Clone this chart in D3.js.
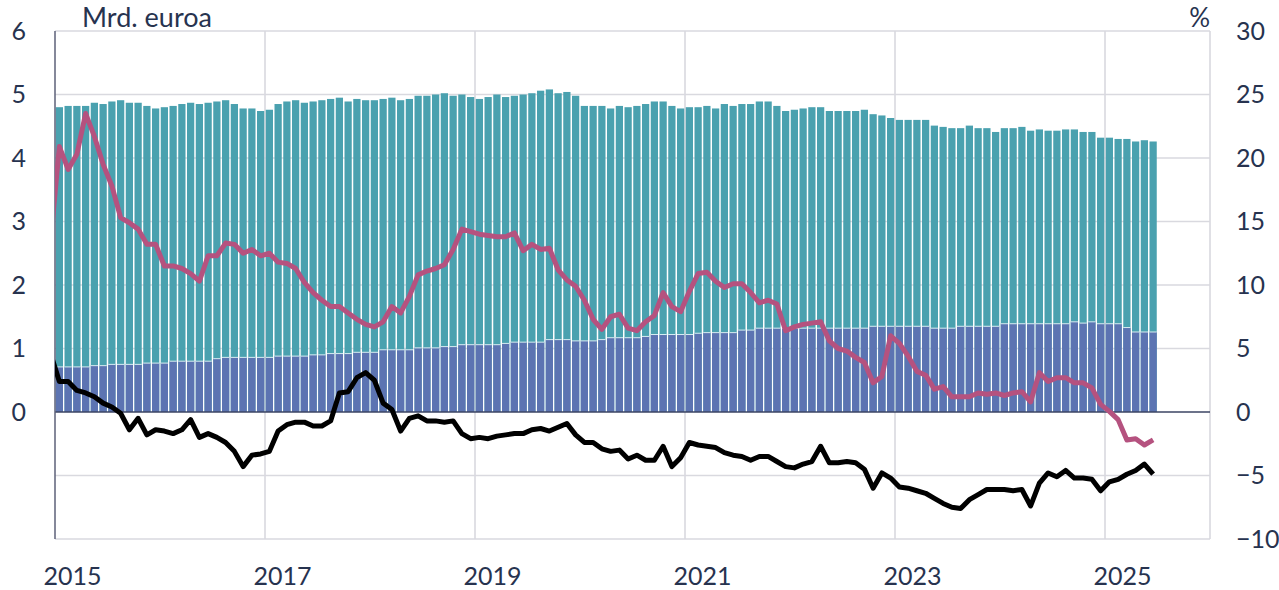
<!DOCTYPE html>
<html>
<head>
<meta charset="utf-8">
<script src="https://cdn.jsdelivr.net/npm/d3@7"></script>
<style>
  body { margin: 0; background: #fff; }
  svg text { font-family: Lato, "Open Sans", sans-serif; fill: #27334f; }
</style>
</head>
<body>
<div id="chart"></div>
<script>
// monthly data, Jan 2015 .. Jun 2025 (bars)
const barTotal = [
  4.80,4.82,4.82,4.82,4.87,4.85,4.89,4.91,4.87,4.87,4.82,4.78,
  4.80,4.82,4.85,4.87,4.85,4.87,4.89,4.91,4.85,4.78,4.78,4.74,
  4.76,4.85,4.89,4.91,4.87,4.89,4.91,4.93,4.95,4.89,4.93,4.91,
  4.91,4.93,4.95,4.91,4.93,4.98,4.98,5.00,5.02,4.98,5.00,4.96,
  4.93,4.96,5.00,4.96,4.98,5.00,5.02,5.06,5.08,5.02,5.04,4.98,
  4.82,4.82,4.82,4.78,4.82,4.80,4.82,4.85,4.89,4.89,4.82,4.78,
  4.80,4.80,4.82,4.78,4.85,4.82,4.85,4.85,4.89,4.89,4.82,4.74,
  4.76,4.78,4.80,4.80,4.74,4.74,4.74,4.74,4.76,4.69,4.67,4.63,
  4.60,4.60,4.60,4.60,4.51,4.49,4.47,4.47,4.51,4.47,4.47,4.41,
  4.47,4.47,4.49,4.43,4.45,4.43,4.43,4.45,4.45,4.41,4.41,4.32,
  4.32,4.30,4.30,4.26,4.28,4.26
]
const barBottom = [
  0.71,0.71,0.71,0.71,0.73,0.73,0.75,0.75,0.75,0.75,0.77,0.77,
  0.77,0.80,0.80,0.80,0.80,0.80,0.84,0.86,0.86,0.86,0.86,0.86,
  0.86,0.88,0.88,0.88,0.88,0.90,0.90,0.92,0.92,0.92,0.94,0.94,
  0.94,0.98,0.98,0.98,0.98,1.01,1.01,1.01,1.03,1.03,1.06,1.06,
  1.06,1.06,1.06,1.08,1.10,1.10,1.10,1.10,1.14,1.14,1.14,1.12,
  1.12,1.12,1.14,1.17,1.17,1.17,1.17,1.19,1.22,1.22,1.22,1.22,
  1.22,1.24,1.25,1.25,1.25,1.25,1.29,1.29,1.32,1.32,1.32,1.32,
  1.32,1.32,1.32,1.32,1.32,1.32,1.32,1.32,1.32,1.35,1.35,1.35,
  1.35,1.35,1.35,1.35,1.32,1.32,1.32,1.35,1.35,1.35,1.35,1.35,
  1.39,1.39,1.39,1.39,1.39,1.39,1.39,1.39,1.42,1.40,1.42,1.39,
  1.39,1.39,1.33,1.26,1.26,1.26
]
// lines (right axis, %), Dec 2014 .. Jun 2025
const pinkLine = [13.5,
  20.9,19.1,20.3,23.5,21.7,19.5,17.8,15.3,14.9,14.4,13.2,13.2,
  11.5,11.5,11.3,10.9,10.3,12.3,12.3,13.3,13.2,12.5,12.8,12.3,
  12.5,11.8,11.7,11.3,10.2,9.4,8.8,8.3,8.3,7.8,7.3,6.9,
  6.7,7.1,8.3,7.8,9.1,10.8,11.1,11.3,11.6,12.8,14.4,14.2,
  14.0,13.9,13.8,13.8,14.1,12.7,13.2,12.8,12.9,11.2,10.4,9.9,
  8.8,7.3,6.5,7.5,7.7,6.6,6.4,7.1,7.6,9.4,8.3,7.9,
  9.5,10.9,11.0,10.3,9.8,10.1,10.1,9.4,8.6,8.8,8.5,6.4,
  6.7,6.9,7.0,7.1,5.6,5.0,4.8,4.3,3.9,2.3,2.8,6.0,
  5.4,4.4,3.2,2.9,1.8,2.0,1.2,1.2,1.2,1.5,1.4,1.5,
  1.3,1.5,1.6,0.8,3.1,2.4,2.7,2.7,2.3,2.3,1.9,0.6,
  0.05,-0.6,-2.2,-2.1,-2.6,-2.2
]
const blackLine = [4.6,
  2.4,2.4,1.7,1.5,1.2,0.7,0.4,-0.1,-1.4,-0.5,-1.8,-1.4,
  -1.5,-1.7,-1.4,-0.6,-2.0,-1.7,-2.0,-2.4,-3.1,-4.3,-3.4,-3.3,
  -3.1,-1.5,-1.0,-0.8,-0.8,-1.1,-1.1,-0.7,1.5,1.6,2.7,3.1,
  2.5,0.7,0.2,-1.5,-0.5,-0.3,-0.7,-0.7,-0.8,-0.7,-1.7,-2.1,
  -2.0,-2.1,-1.9,-1.8,-1.7,-1.7,-1.4,-1.3,-1.5,-1.2,-0.9,-1.8,
  -2.4,-2.4,-2.9,-3.1,-3.0,-3.7,-3.4,-3.8,-3.8,-2.7,-4.3,-3.6,
  -2.4,-2.6,-2.7,-2.8,-3.2,-3.4,-3.5,-3.8,-3.5,-3.5,-3.9,-4.3,
  -4.4,-4.1,-3.9,-2.7,-4.0,-4.0,-3.9,-4.0,-4.5,-6.0,-4.8,-5.2,
  -5.9,-6.0,-6.2,-6.4,-6.8,-7.2,-7.5,-7.6,-6.9,-6.5,-6.1,-6.1,
  -6.1,-6.2,-6.1,-7.4,-5.6,-4.8,-5.1,-4.6,-5.2,-5.2,-5.3,-6.2,
  -5.5,-5.3,-4.9,-4.6,-4.1,-4.9
]
const leftTicks = [0, 1, 2, 3, 4, 5, 6]
const rightTicks = [-10, -5, 0, 5, 10, 15, 20, 25, 30]
const yearLabels = ["2015", "2017", "2019", "2021", "2023", "2025"]
const leftTitle = "Mrd. euroa"
const rightTitle = "%"

const W = 1279, H = 590
const m = {left: 55, right: 1210, top: 31, bottom: 539}

const svg = d3.select("#chart").append("svg")
    .attr("width", W).attr("height", H)

// month index scale: 0 = Jan 2015, 132 = Jan 2026
const x = d3.scaleLinear().domain([0, 132]).range([m.left, m.right])
const yL = d3.scaleLinear().domain([-2, 6]).range([m.bottom, m.top])
const yR = d3.scaleLinear().domain([-10, 30]).range([m.bottom, m.top])
const step = x(1) - x(0)

svg.append("defs").append("clipPath").attr("id", "plot")
    .append("rect").attr("x", m.left).attr("y", m.top)
    .attr("width", m.right - m.left).attr("height", m.bottom - m.top)

// grid
const grid = svg.append("g").attr("stroke", "#d9d9df").attr("stroke-width", 1.6)
grid.selectAll("line.h").data([-2, -1, 1, 2, 3, 4, 5, 6]).enter().append("line")
    .attr("x1", m.left).attr("x2", m.right)
    .attr("y1", d => yL(d)).attr("y2", d => yL(d))
grid.selectAll("line.v").data(yearLabels.slice(1).map((d, i) => (i + 1) * 24).concat([132]))
    .enter().append("line")
    .attr("x1", d => x(d)).attr("x2", d => x(d))
    .attr("y1", m.top).attr("y2", m.bottom)

// bars
const bars = svg.append("g")
bars.selectAll("rect.total").data(barTotal).enter().append("rect")
    .attr("x", (d, i) => x(i) + 0.75)
    .attr("width", step - 1.5)
    .attr("y", d => yL(d))
    .attr("height", d => yL(0) - yL(d))
    .attr("fill", "#4aa1af")
bars.selectAll("rect.bottom").data(barBottom).enter().append("rect")
    .attr("x", (d, i) => x(i) + 0.75)
    .attr("width", step - 1.5)
    .attr("y", d => yL(d))
    .attr("height", d => yL(0) - yL(d))
    .attr("fill", "#5c74b2")
// thin light separator between segments
bars.selectAll("line.sep").data(barBottom).enter().append("line")
    .attr("x1", (d, i) => x(i) + 0.75).attr("x2", (d, i) => x(i + 1) - 0.75)
    .attr("y1", d => yL(d)).attr("y2", d => yL(d))
    .attr("stroke", "#d8eef2").attr("stroke-width", 1)

// zero line
svg.append("line")
    .attr("x1", m.left).attr("x2", m.right)
    .attr("y1", yL(0)).attr("y2", yL(0))
    .attr("stroke", "#3b4563").attr("stroke-width", 1.5)

// left axis line
svg.append("line")
    .attr("x1", m.left).attr("x2", m.left).attr("y1", m.top).attr("y2", m.bottom)
    .attr("stroke", "#5c6178").attr("stroke-width", 1.5)

// lines
const line = scale => d3.line()
    .x((d, i) => x(i - 1 + 0.5))
    .y(d => scale(d))
const lines = svg.append("g").attr("clip-path", "url(#plot)")
lines.append("path").datum(pinkLine)
    .attr("d", line(yR))
    .attr("fill", "none").attr("stroke", "#b5527f")
    .attr("stroke-width", 5).attr("stroke-linejoin", "round")
lines.append("path").datum(blackLine)
    .attr("d", line(yR))
    .attr("fill", "none").attr("stroke", "#000")
    .attr("stroke-width", 5).attr("stroke-linejoin", "round")

// axes
const fontSize = "25px"
svg.append("g")
    .attr("transform", "translate(" + m.left + ",0)")
    .call(d3.axisLeft(yL).tickValues(leftTicks).tickSize(0).tickPadding(29))
    .call(g => g.select(".domain").remove())
    .selectAll("text").style("font-size", fontSize).attr("fill", null)

svg.append("g")
    .attr("transform", "translate(" + m.right + ",0)")
    .call(d3.axisRight(yR).tickValues(rightTicks).tickSize(0).tickPadding(26))
    .call(g => g.select(".domain").remove())
    .selectAll("text").style("font-size", fontSize).attr("fill", null)

svg.append("g")
    .attr("transform", "translate(0," + m.bottom + ")")
    .call(d3.axisBottom(x).tickValues(yearLabels.map((d, i) => i * 24))
        .tickFormat((d, i) => yearLabels[i]).tickSize(0).tickPadding(28))
    .call(g => g.select(".domain").remove())
    .selectAll("text").style("font-size", fontSize).attr("fill", null).attr("dx", 17)

svg.append("text").text(leftTitle)
    .attr("x", 82).attr("y", 27)
    .style("font-size", "27px")
svg.append("text").text(rightTitle)
    .attr("x", m.right).attr("y", 27).attr("text-anchor", "end")
    .style("font-size", "26px")
</script>
</body>
</html>
